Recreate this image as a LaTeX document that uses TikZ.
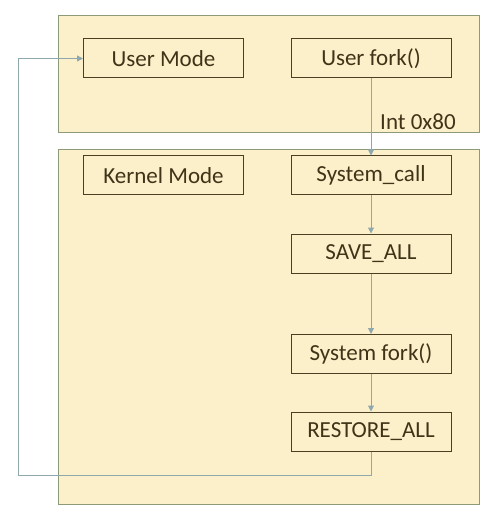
\documentclass[tikz,border=0pt]{standalone}
\usepackage{fontspec}
\setmainfont{Carlito}
\usetikzlibrary{arrows.meta}
\definecolor{panelfill}{HTML}{FCF0CA}
\definecolor{panelline}{HTML}{8C9A78}
\definecolor{boxline}{HTML}{4A3F22}
\definecolor{txt}{HTML}{3F3418}
\definecolor{conn}{HTML}{8EA8AE}
\tikzset{
  panel/.style={draw=panelline, fill=panelfill, line width=1pt},
  stepbox/.style={draw=boxline, fill=panelfill, line width=1pt, minimum width=160pt, minimum height=39pt, inner sep=0pt, text=txt, font=\fontsize{23}{28}\selectfont},
  link/.style={draw=conn, line width=1pt, -{Triangle[length=6pt,width=6pt]}},
  lbl/.style={text=txt, font=\fontsize{23}{28}\selectfont, inner sep=0pt}
}
\begin{document}
\begin{tikzpicture}[x=1pt,y=-1pt]
\useasboundingbox (0,0) rectangle (490,518);
\fill[white] (0,0) rectangle (490,518);
\draw[panel] (58,16) rectangle (479,133);
\draw[panel] (58,150) rectangle (479,504);
\node[stepbox] (um) at (163.5,58.5) {User Mode};
\node[stepbox] (uf) at (371,58.5) {User fork()};
\node[stepbox] (km) at (163.5,175.5) {Kernel Mode};
\node[stepbox] (sc) at (371,175.5) {System\_call};
\node[stepbox] (sa) at (371,253.5) {SAVE\_ALL};
\node[stepbox] (sf) at (371,354) {System fork()};
\node[stepbox] (ra) at (371,431.5) {RESTORE\_ALL};
\node[lbl, anchor=west] (int) at (380,122) {Int 0x80};
\coordinate (c1) at (371,475);
\coordinate (c2) at (18,475);
\coordinate (c3) at (18,58.5);
\draw[link] (uf) -- (sc);
\draw[link] (sc) -- (sa);
\draw[link] (sa) -- (sf);
\draw[link] (sf) -- (ra);
\draw[link] (ra) -- (c1) -- (c2) -- (c3) -- (um);
\end{tikzpicture}
\end{document}
